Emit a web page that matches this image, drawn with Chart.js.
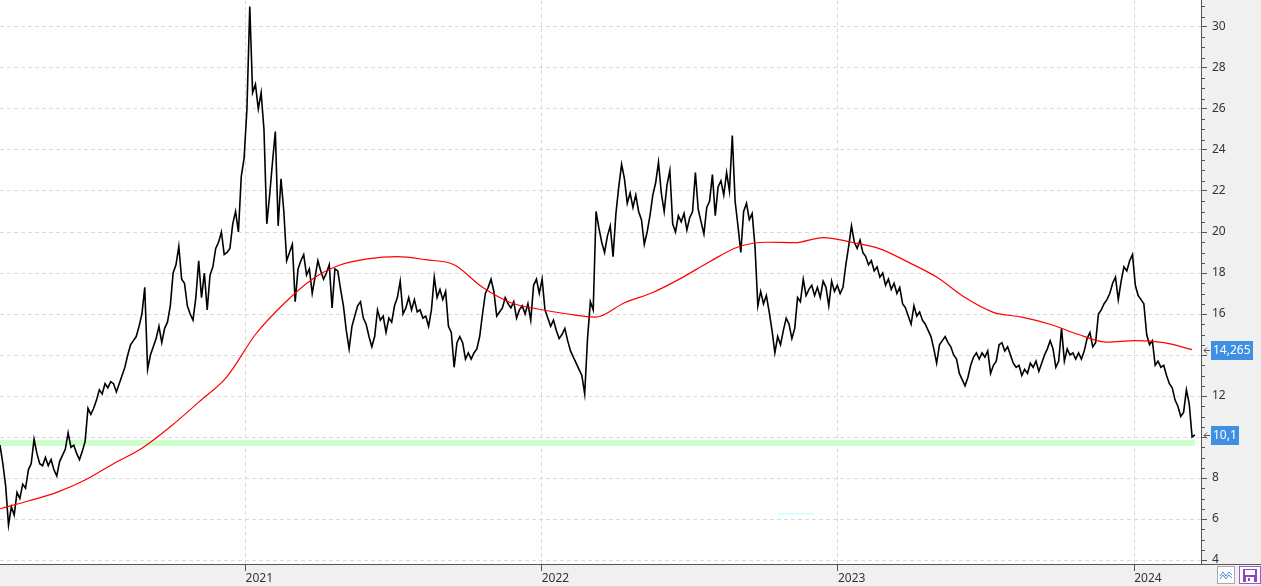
<!DOCTYPE html>
<html>
<head>
<meta charset="utf-8">
<script src="https://cdn.jsdelivr.net/npm/chart.js@4.4.1/dist/chart.umd.min.js"></script>
<style>
  html, body { margin: 0; padding: 0; background: #fff; }
  #wrap { width: 1261px; height: 586px; position: relative; }
</style>
</head>
<body>
<div id="wrap"><canvas id="chartKurs"></canvas></div>
<script>
const startYear = 2020.171;
const stepYears = 3.5 / 365.25;
const priceValues = [
  9.6, 8.7, 7.6, 5.7, 6.6, 6.2, 7.3, 7.0, 7.7, 7.5,
  8.4, 8.7, 9.9, 9.2, 8.7, 8.6, 9.0, 8.6, 8.9, 8.4,
  8.1, 8.8, 9.1, 9.4, 10.2, 9.5, 9.6, 9.2, 8.9, 9.3,
  9.8, 11.4, 11.1, 11.4, 11.8, 12.3, 12.1, 12.6, 12.4, 12.7,
  12.6, 12.2, 12.6, 13.0, 13.4, 14.0, 14.5, 14.7, 14.9, 15.4,
  16.0, 17.3, 13.3, 14.0, 14.4, 14.8, 15.4, 14.6, 15.3, 15.6,
  16.4, 18.0, 18.4, 19.3, 17.7, 17.5, 16.4, 16.0, 15.7, 16.8,
  18.6, 16.8, 18.0, 16.2, 17.9, 18.3, 19.2, 19.5, 20.0, 18.9,
  19.0, 19.2, 20.4, 21.0, 20.0, 22.7, 23.6, 26.0, 31.0, 26.8,
  27.2, 26.0, 26.8, 25.0, 20.4, 21.8, 23.4, 24.9, 20.3, 22.6,
  21.0, 18.6, 19.0, 19.4, 16.6, 18.2, 18.6, 18.9, 17.9, 18.2,
  17.0, 17.8, 18.6, 18.1, 17.7, 18.0, 18.4, 16.3, 18.2, 18.1,
  17.2, 16.4, 15.2, 14.3, 15.4, 15.9, 16.4, 16.6, 15.8, 15.5,
  14.9, 14.4, 14.9, 16.2, 15.7, 15.9, 15.1, 15.8, 15.6, 16.4,
  16.8, 17.6, 16.0, 16.3, 16.8, 16.2, 16.7, 16.1, 16.2, 15.8,
  15.9, 15.4, 16.2, 17.8, 16.8, 17.2, 16.7, 17.1, 15.4, 15.1,
  13.4, 14.6, 14.9, 14.6, 13.8, 14.1, 13.8, 14.1, 14.3, 14.9,
  16.0, 17.0, 17.3, 17.7, 17.1, 15.9, 16.1, 16.3, 16.8, 16.5,
  16.3, 16.6, 15.8, 16.2, 16.4, 16.0, 16.5, 15.7, 17.4, 17.7,
  17.0, 17.7, 16.2, 15.8, 15.4, 15.7, 15.2, 14.8, 15.0, 15.3,
  14.7, 14.2, 13.9, 13.6, 13.3, 13.0, 12.1, 14.8, 16.6, 16.2,
  21.0, 20.2, 19.5, 19.0, 19.8, 20.3, 18.8, 20.9, 22.2, 23.3,
  22.6, 21.4, 21.9, 21.2, 21.8, 21.0, 20.6, 19.4, 20.0, 20.8,
  21.8, 22.4, 23.4, 21.9, 21.0, 22.3, 23.0, 20.4, 20.0, 20.8,
  20.5, 20.9, 20.1, 20.7, 21.0, 22.9, 21.1, 20.5, 19.9, 21.2,
  21.5, 22.8, 20.8, 22.2, 22.5, 21.8, 22.9, 22.0, 24.7, 21.5,
  20.3, 19.0, 21.0, 21.4, 20.6, 20.9, 19.3, 16.4, 17.1, 16.5,
  16.9, 16.1, 15.2, 14.1, 14.9, 14.5, 15.2, 15.8, 15.5, 14.8,
  15.3, 16.8, 16.6, 17.7, 16.9, 17.2, 17.4, 16.9, 17.3, 16.8,
  17.6, 17.3, 16.4, 17.6, 17.1, 17.4, 17.0, 17.3, 18.4, 19.3,
  20.3, 19.5, 19.2, 19.6, 19.0, 18.8, 18.4, 18.6, 18.1, 18.3,
  17.8, 18.0, 17.4, 17.7, 17.2, 17.5, 17.0, 17.3, 16.5, 16.3,
  15.9, 15.5, 16.4, 15.9, 16.1, 15.7, 15.5, 15.2, 14.9, 14.3,
  13.6, 14.5, 14.7, 14.9, 14.6, 14.4, 14.0, 13.8, 13.1, 12.8,
  12.5, 12.9, 13.5, 13.9, 14.1, 13.8, 14.1, 13.9, 14.2, 13.1,
  13.5, 13.7, 14.5, 14.6, 14.2, 14.4, 14.0, 13.6, 13.4, 13.5,
  13.0, 13.3, 13.1, 13.6, 13.4, 13.7, 13.2, 13.6, 14.0, 14.3,
  14.7, 14.3, 13.4, 13.7, 15.3, 13.7, 14.3, 14.0, 14.1, 13.8,
  14.1, 13.8, 14.2, 14.8, 15.1, 14.4, 14.6, 16.0, 16.2, 16.5,
  16.7, 17.0, 17.5, 17.8, 16.7, 17.6, 18.3, 18.1, 18.6, 18.9,
  17.4, 16.9, 16.7, 16.5, 15.0, 14.5, 14.7, 13.5, 13.7, 13.4,
  13.5, 13.0, 12.6, 12.4, 11.8, 11.5, 11.0, 11.2, 12.3, 11.6,
  10.0, 10.1
];
// moving average, one value every 10th price sample
const maStride = 10;
const maValues = [
  6.5, 6.88, 7.3, 7.9, 8.7, 9.45, 10.5, 11.7, 12.95, 15.0,
  16.5, 17.7, 18.4, 18.7, 18.8, 18.65, 18.4, 17.3, 16.55, 16.23,
  16.0, 15.85, 16.55, 17.05, 17.75, 18.55, 19.27, 19.5, 19.48, 19.73,
  19.5, 19.18, 18.53, 17.8, 16.8, 16.08, 15.85, 15.5, 15.0, 14.63,
  14.7, 14.6, 14.265
];
const yearTicks = [2021, 2022, 2023, 2024];
const priceTicks = [4, 6, 8, 10, 12, 14, 16, 18, 20, 22, 24, 26, 28, 30];
// horizontal zones: green support zone and small cyan mark
const bandLow = [9.56, 6.22];
const bandHigh = [9.86, 6.30];
const bandFrom = [2020.171, 2022.797];
const bandTo = [2024.205, 2022.919];

const xMin = 2020.171, xMax = 2024.2257;
const yMin = 3.805, yMax = 31.317;

const tickFont = { family: "'Noto Sans', sans-serif", size: 12 };
const tickColor = '#333';

const decor = {
  id: 'decor',
  beforeDraw(chart) {
    const { ctx, chartArea: a, width, height } = chart;
    ctx.save();
    ctx.fillStyle = '#f0f0f0';
    ctx.fillRect(a.right, 0, width - a.right, height);
    ctx.fillRect(0, a.bottom, width, height - a.bottom);
    ctx.fillStyle = '#fff';
    ctx.fillRect(a.left, a.top, a.right - a.left, a.bottom - a.top);
    ctx.restore();
  },
  beforeDatasetsDraw(chart) {
    const { ctx, scales: { x, y } } = chart;
    const fills = ['#ccffcc', '#ccffff'];
    ctx.save();
    bandLow.forEach((lo, i) => {
      const x0 = x.getPixelForValue(bandFrom[i]);
      const x1 = x.getPixelForValue(bandTo[i]);
      const y0 = y.getPixelForValue(bandHigh[i]);
      const y1 = y.getPixelForValue(lo);
      ctx.fillStyle = fills[i];
      ctx.fillRect(x0, y0, x1 - x0, y1 - y0);
    });
    ctx.restore();
  },
  afterDraw(chart) {
    const { ctx, chartArea: a, width, scales: { y } } = chart;
    ctx.save();
    // minor ticks every 0.5
    ctx.strokeStyle = '#555';
    ctx.lineWidth = 1;
    ctx.beginPath();
    for (let v = 4; v <= yMax; v += 0.5) {
      if (v % 2 === 0) continue;
      const py = Math.round(y.getPixelForValue(v)) + 0.5;
      ctx.moveTo(a.right, py);
      ctx.lineTo(a.right + 4, py);
    }
    // x axis line runs under the price scale too
    ctx.moveTo(a.right, a.bottom + 0.5);
    ctx.lineTo(width, a.bottom + 0.5);
    ctx.stroke();

    // last value tags
    const tags = [maValues[maValues.length - 1], priceValues[priceValues.length - 1]];
    ctx.font = "12px 'Noto Sans', sans-serif";
    ctx.textBaseline = 'middle';
    tags.forEach(v => {
      const py = Math.round(y.getPixelForValue(v));
      const txt = String(v).replace('.', ',');
      const w = Math.ceil(ctx.measureText(txt).width) + 4;
      ctx.fillStyle = '#3f8fe3';
      ctx.fillRect(a.right + 10, py - 9, w, 19);
      ctx.fillStyle = '#fff';
      ctx.fillText(txt, a.right + 12, py + 1);
      ctx.strokeStyle = '#555';
      ctx.beginPath();
      ctx.moveTo(a.right + 3, py + 0.5);
      ctx.lineTo(a.right + 9, py + 0.5);
      ctx.moveTo(a.right + 6, py - 2.5);
      ctx.lineTo(a.right + 3, py + 0.5);
      ctx.lineTo(a.right + 6, py + 3.5);
      ctx.stroke();
    });

    // two small toolbar buttons bottom right
    ctx.fillStyle = '#fff';
    ctx.strokeStyle = '#a8a8a8';
    ctx.fillRect(1217.5, 566.5, 17, 17);
    ctx.strokeRect(1217.5, 566.5, 17, 17);
    ctx.strokeStyle = '#4a86d8';
    ctx.beginPath();
    ctx.moveTo(1220, 576); ctx.lineTo(1223, 572); ctx.lineTo(1226, 576); ctx.lineTo(1229, 572); ctx.lineTo(1232, 575);
    ctx.moveTo(1220, 579); ctx.lineTo(1223, 575); ctx.lineTo(1226, 579); ctx.lineTo(1229, 575); ctx.lineTo(1232, 578);
    ctx.stroke();
    ctx.fillStyle = '#fff';
    ctx.strokeStyle = '#9a5cc8';
    ctx.fillRect(1239.5, 566.5, 21, 17);
    ctx.strokeRect(1239.5, 566.5, 21, 17);
    ctx.fillStyle = '#8e44c4';
    ctx.fillRect(1243, 569, 14, 13);
    ctx.fillStyle = '#fff';
    ctx.fillRect(1245, 570, 10, 5);
    ctx.fillRect(1246, 577, 8, 5);
    ctx.fillStyle = '#8e44c4';
    ctx.fillRect(1248, 578, 2, 3);
    ctx.restore();
  }
};

new Chart(document.getElementById('chartKurs').getContext('2d'), {
  type: 'line',
  data: {
    datasets: [{
      label: 'GD',
      data: maValues.map((v, i) => ({ x: startYear + i * maStride * stepYears, y: v })),
      borderColor: '#ff0000',
      borderWidth: 1.2,
      pointRadius: 0,
      cubicInterpolationMode: 'monotone',
      order: 0
    }, {
      label: 'Kurs',
      data: priceValues.map((v, i) => ({ x: startYear + i * stepYears, y: v })),
      borderColor: '#000',
      borderWidth: 1.6,
      pointRadius: 0,
      tension: 0,
      order: 1
    }]
  },
  options: {
    responsive: true,
    maintainAspectRatio: false,
    animation: false,
    events: [],
    layout: { padding: 0 },
    plugins: { legend: { display: false }, tooltip: { enabled: false } },
    scales: {
      x: {
        type: 'linear',
        min: xMin,
        max: xMax,
        afterBuildTicks: s => { s.ticks = yearTicks.map(v => ({ value: v })); },
        afterFit: s => { s.height = 22; s.paddingLeft = 0; s.paddingRight = 0; },
        ticks: { align: 'start', padding: 0, autoSkip: false, maxRotation: 0, color: tickColor, font: tickFont, callback: v => String(v) },
        grid: { color: '#dadada', tickColor: '#555', tickLength: 7 },
        border: { color: '#555', dash: [4, 3] }
      },
      y: {
        position: 'right',
        min: yMin,
        max: yMax,
        afterBuildTicks: s => { s.ticks = priceTicks.map(v => ({ value: v })); },
        afterFit: s => { s.width = 60; s.paddingTop = 0; s.paddingBottom = 0; },
        ticks: { padding: 5, color: tickColor, font: tickFont, callback: v => String(v) },
        grid: { color: '#dadada', tickColor: '#555', tickLength: 6 },
        border: { color: '#555', dash: [4, 3] }
      }
    }
  },
  plugins: [decor]
});
</script>
</body>
</html>
